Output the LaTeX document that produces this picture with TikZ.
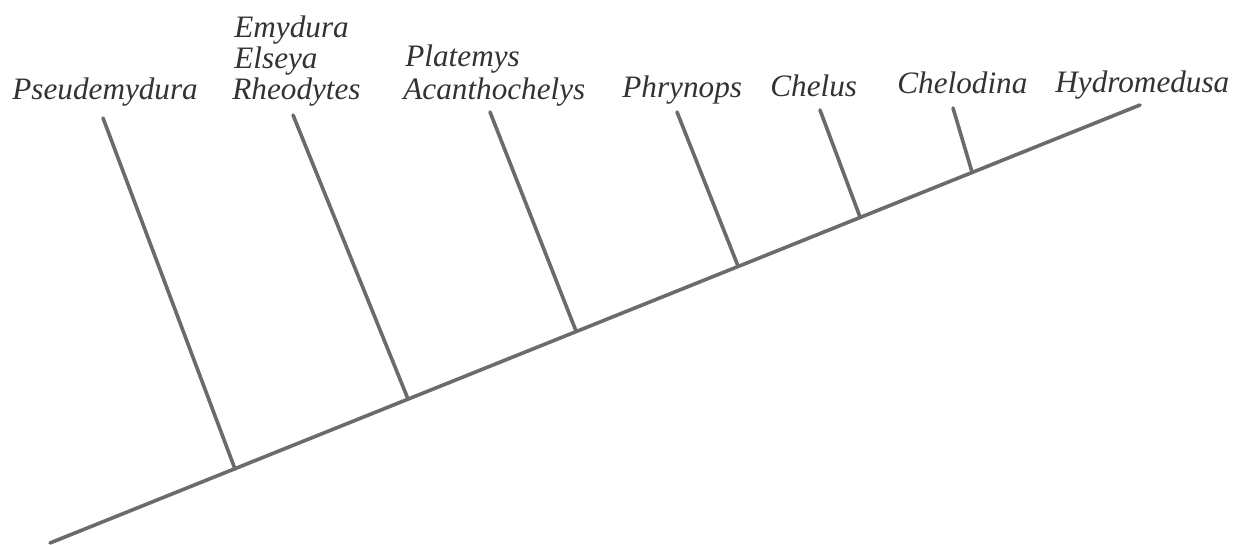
\documentclass[tikz,border=0pt]{standalone}
\usepackage{fontspec}
\setmainfont{Liberation Serif}
\begin{document}
\begin{tikzpicture}[x=0.5pt,y=-0.5pt,
  branch/.style={draw=black!58, line width=1.8pt, line cap=round},
  taxon/.style={anchor=base west, inner sep=0pt, text=black!80, font=\fontsize{15.6pt}{16pt}\selectfont\itshape}]
\useasboundingbox[fill=white] (0,0) rectangle (1242,545);
% main line
\coordinate (root) at (50,543);
\coordinate (hyd) at (1140,105);
% junctions
\coordinate (j1) at (235,469);
\coordinate (j2) at (408,399);
\coordinate (j3) at (576,331);
\coordinate (j4) at (738,266);
\coordinate (j5) at (860,217);
\coordinate (j6) at (972,172);
% tips
\coordinate (t1) at (103,118);
\coordinate (t2) at (293,115);
\coordinate (t3) at (490,112);
\coordinate (t4) at (677,112);
\coordinate (t5) at (820,110);
\coordinate (t6) at (953,108);
\draw[branch] (root) -- (hyd);
\draw[branch] (j1) -- (t1);
\draw[branch] (j2) -- (t2);
\draw[branch] (j3) -- (t3);
\draw[branch] (j4) -- (t4);
\draw[branch] (j5) -- (t5);
\draw[branch] (j6) -- (t6);
% labels
\node[taxon] (pse) at (12,100) {Pseudemydura};
\node[taxon] (emy) at (234,38) {Emydura};
\node[taxon] (els) at (234,69) {Elseya};
\node[taxon] (rhe) at (232,100) {Rheodytes};
\node[taxon] (pla) at (405,67) {Platemys};
\node[taxon] (aca) at (403,100) {Acanthochelys};
\node[taxon] (phr) at (622,98) {Phrynops};
\node[taxon] (che) at (770,97) {Chelus};
\node[taxon] (chd) at (897,94) {Chelodina};
\node[taxon] (hydl) at (1055,93) {Hydromedusa};
\end{tikzpicture}
\end{document}
